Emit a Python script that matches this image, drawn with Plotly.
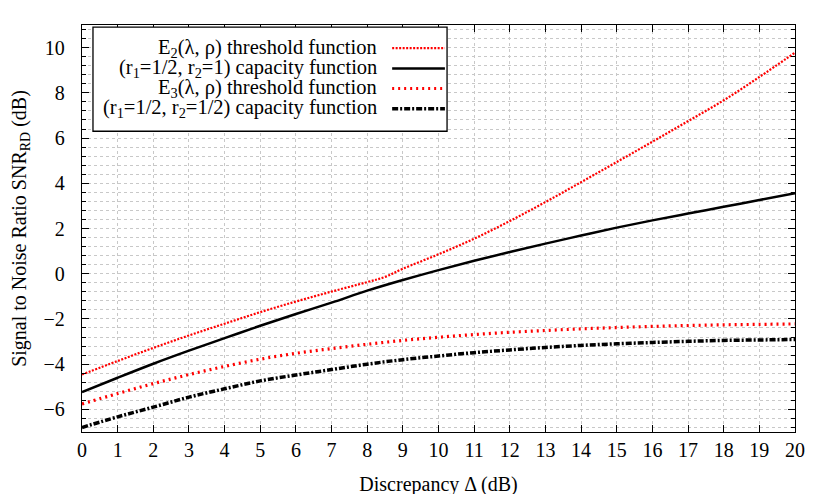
import plotly.graph_objects as go

# Discrepancy values (dB)
delta = list(range(0, 21))
delta_e2 = [0, 1, 2, 3, 4, 5, 6, 7, 8, 8.5, 9, 10, 11, 12, 13, 14, 15, 16, 17, 18, 19, 20]

# E2(lambda, rho) threshold function
e2_thr = [-4.46, -3.86, -3.28, -2.73, -2.21, -1.70, -1.23, -0.79, -0.37, -0.14, 0.22,
          0.86, 1.55, 2.33, 3.17, 4.05, 4.94, 5.84, 6.75, 7.67, 8.70, 9.78]
# (r1=1/2, r2=1) capacity function
cap_1 = [-5.24, -4.60, -3.98, -3.40, -2.85, -2.30, -1.78, -1.28, -0.75, -0.28, 0.16,
         0.57, 0.96, 1.33, 1.69, 2.04, 2.36, 2.66, 2.96, 3.26, 3.56]
# E3(lambda, rho) threshold function
e3_thr = [-5.76, -5.30, -4.86, -4.46, -4.10, -3.78, -3.52, -3.31, -3.12, -2.95, -2.81,
          -2.69, -2.59, -2.51, -2.44, -2.38, -2.33, -2.29, -2.26, -2.24, -2.22]
# (r1=1/2, r2=1/2) capacity function
cap_half = [-6.80, -6.33, -5.90, -5.46, -5.09, -4.74, -4.48, -4.24, -4.00, -3.80, -3.64,
            -3.49, -3.37, -3.26, -3.17, -3.10, -3.04, -2.99, -2.95, -2.93, -2.91]

labels = ['E<sub>2</sub>(λ, ρ) threshold function',
          '(r<sub>1</sub>=1/2, r<sub>2</sub>=1) capacity function',
          'E<sub>3</sub>(λ, ρ) threshold function',
          '(r<sub>1</sub>=1/2, r<sub>2</sub>=1/2) capacity function']

styles = [dict(color='#ff0000', width=2.2, dash='2px,1.5px'),
          dict(color='#000000', width=2.5),
          dict(color='#ff0000', width=3.2, dash='2px,4px'),
          dict(color='#000000', width=3.5, dash='6px,2px,2px,2px')]

FONT = 'Liberation Serif, Times New Roman, serif'
TXT = dict(family=FONT, size=20, color='black')

fig = go.Figure()
series = [(delta_e2, e2_thr), (delta, cap_1), (delta, e3_thr), (delta, cap_half)]
for (xs, ys), st, lb in zip(series, styles, labels):
    fig.add_trace(go.Scatter(x=xs, y=ys, mode='lines', name=lb, line=st,
                             line_shape='spline', showlegend=False))

grid = dict(gridcolor='#c8c8c8', griddash='dot', gridwidth=1)
fig.update_xaxes(range=[0, 20], dtick=1, tick0=0, ticks='inside', ticklen=7,
                 tickcolor='black', mirror='allticks', showline=True,
                 linecolor='black', linewidth=1.3, zeroline=False, automargin=False,
                 tickfont=TXT, ticklabelstandoff=0,
                 title=dict(text='Discrepancy Δ (dB)', font=TXT, standoff=16), **grid)
fig.update_yaxes(range=[-7, 11], dtick=2, tick0=0, ticks='inside', ticklen=7,
                 tickcolor='black', mirror='allticks', showline=True,
                 linecolor='black', linewidth=1.3, zeroline=False, automargin=False,
                 tickfont=TXT, ticklabelstandoff=12,
                 minor=dict(dtick=0.4, tick0=0, ticks='inside', ticklen=4,
                            tickcolor='black', showgrid=True, **grid),
                 title=dict(text='Signal to Noise Ratio SNR<sub>RD</sub> (dB)',
                            font=TXT, standoff=14),
                 **grid)

# legend box drawn gnuplot-style: text right-aligned, sample line on the right
fig.add_shape(type='rect', xref='paper', yref='paper', x0=0.0154, x1=0.512,
              y0=0.739, y1=0.995, line=dict(color='black', width=1.3),
              fillcolor='white', layer='above')
rows = [0.943, 0.893, 0.844, 0.794]
for lb, st, yr in zip(labels, styles, rows):
    fig.add_annotation(x=0.4166, y=yr, xref='paper', yref='paper', text=lb,
                       showarrow=False, xanchor='right', yanchor='middle',
                       font=dict(family=FONT, size=20.5, color='black'))
    fig.add_shape(type='line', xref='paper', yref='paper', x0=0.435, x1=0.509,
                  y0=yr, y1=yr, line=st, layer='above')

# page body adds an 8px offset, margins compensate for it
fig.update_layout(width=830, height=494, margin=dict(l=74, r=43, t=17, b=70),
                  plot_bgcolor='white', paper_bgcolor='white', font=TXT)
fig.write_html('out.html')
